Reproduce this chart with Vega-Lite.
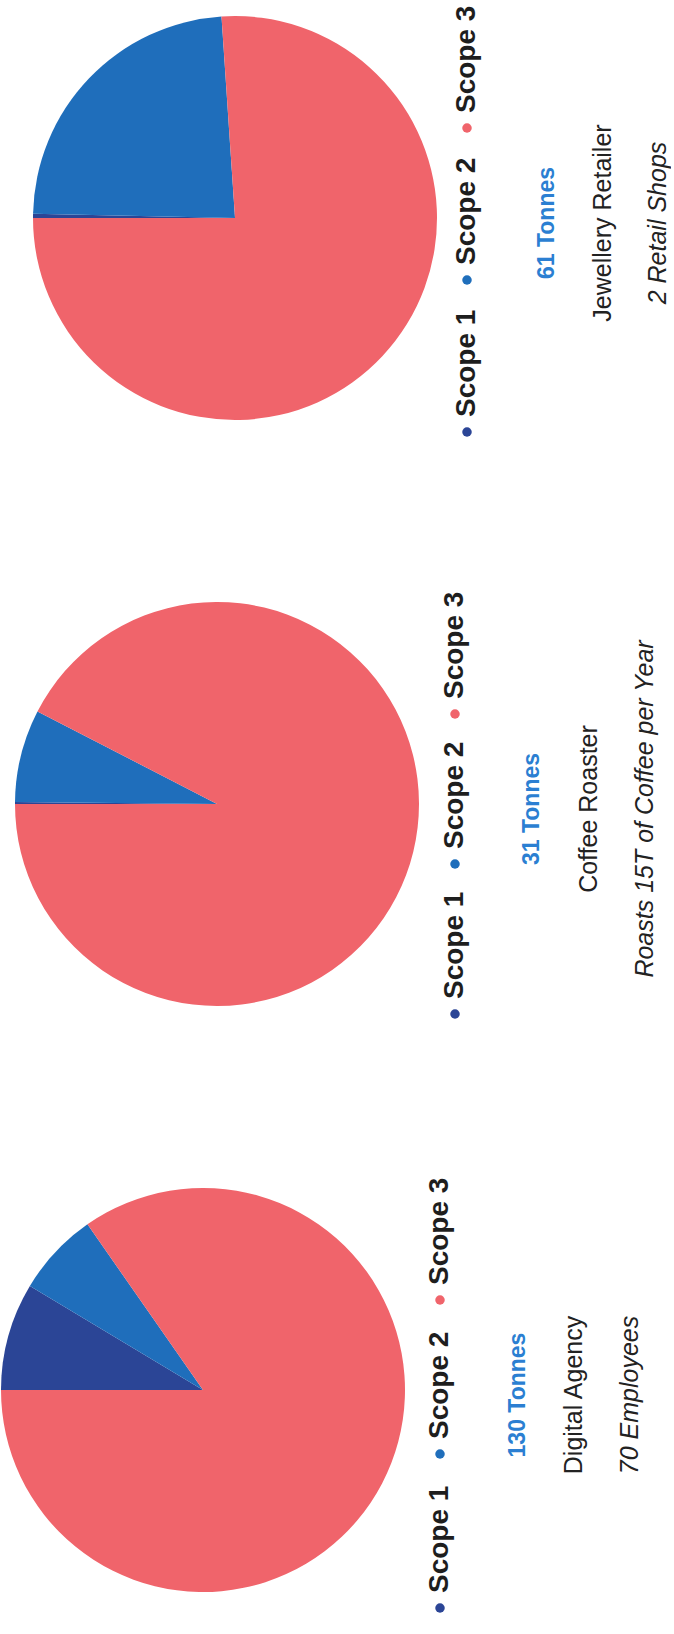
{
  "$schema": "https://vega.github.io/schema/vega-lite/v6.json",
  "background": "white",
  "padding": {"top": 5, "left": 0, "right": 0, "bottom": 0},
  "bounds": "flush",
  "spacing": 182,
  "config": {"view": {"stroke": null}, "text": {"font": "Liberation Sans"}},
  "datasets": {
    "scopes": [
      {"company": "Jewellery Retailer", "scope": "Scope 1", "tonnes": 0.2},
      {"company": "Jewellery Retailer", "scope": "Scope 2", "tonnes": 14.4},
      {"company": "Jewellery Retailer", "scope": "Scope 3", "tonnes": 46.4},
      {"company": "Coffee Roaster", "scope": "Scope 1", "tonnes": 0.05},
      {"company": "Coffee Roaster", "scope": "Scope 2", "tonnes": 2.3},
      {"company": "Coffee Roaster", "scope": "Scope 3", "tonnes": 28.65},
      {"company": "Digital Agency", "scope": "Scope 1", "tonnes": 11.2},
      {"company": "Digital Agency", "scope": "Scope 2", "tonnes": 8.7},
      {"company": "Digital Agency", "scope": "Scope 3", "tonnes": 110.1}
    ],
    "labels": [
      {"company": "Jewellery Retailer", "role": "tonnes", "text": "61 Tonnes"},
      {"company": "Jewellery Retailer", "role": "business", "text": "Jewellery Retailer"},
      {"company": "Jewellery Retailer", "role": "detail", "text": "2 Retail Shops"},
      {"company": "Coffee Roaster", "role": "tonnes", "text": "31 Tonnes"},
      {"company": "Coffee Roaster", "role": "business", "text": "Coffee Roaster"},
      {"company": "Coffee Roaster", "role": "detail", "text": "Roasts 15T of Coffee per Year"},
      {"company": "Digital Agency", "role": "tonnes", "text": "130 Tonnes"},
      {"company": "Digital Agency", "role": "business", "text": "Digital Agency"},
      {"company": "Digital Agency", "role": "detail", "text": "70 Employees"}
    ]
  },
  "vconcat": [
    {
      "width": 470, "height": 404,
      "resolve": {"scale": {"x": "independent"}},
      "layer": [
        {
          "data": {"name": "scopes"},
          "transform": [{"filter": "datum.company === 'Jewellery Retailer'"}],
          "mark": {"type": "arc"},
          "encoding": {
            "theta": {"field": "tonnes", "type": "quantitative", "stack": true, "scale": {"range": [-1.5708, 4.7124], "nice": false}},
            "order": {"field": "scope", "type": "ordinal", "sort": "ascending"},
            "color": {"field": "scope", "type": "nominal", "legend": null, "scale": {"domain": ["Scope 1", "Scope 2", "Scope 3"], "range": ["#2b4596", "#1f6ebb", "#f0646b"]}}
          }
        },
        {
          "data": {"name": "scopes"},
          "transform": [{"filter": "datum.company === 'Jewellery Retailer'"}],
          "encoding": {
            "x": {"datum": "legend", "type": "nominal", "scale": {"type": "point", "domain": ["legend"], "range": [467, 467], "padding": 0}, "axis": null},
            "y": {"field": "scope", "type": "nominal", "scale": {"type": "point", "domain": ["Scope 1", "Scope 2", "Scope 3"], "range": [401, 97], "padding": 0}, "axis": null},
            "color": {"field": "scope", "type": "nominal", "legend": null}
          },
          "layer": [
            {"mark": {"type": "point", "filled": true, "opacity": 1, "size": 90, "yOffset": 15}},
            {"mark": {"type": "text", "angle": 270, "align": "left", "baseline": "middle", "fontSize": 28, "fontWeight": "bold", "color": "#1e1e1e"},
             "encoding": {"text": {"field": "scope"}, "color": {"value": "#1e1e1e"}}}
          ]
        },
        {
          "data": {"name": "labels"},
          "transform": [{"filter": "datum.company === 'Jewellery Retailer'"}],
          "encoding": {
            "x": {"field": "role", "type": "nominal", "scale": {"type": "point", "domain": ["tonnes", "business", "detail"], "range": [547, 658], "padding": 0}, "axis": null},
            "text": {"field": "text"}
          },
          "layer": [
            {"transform": [{"filter": "datum.role === 'tonnes'"}],
             "mark": {"type": "text", "angle": 270, "align": "center", "baseline": "middle", "fontSize": 23, "fontWeight": "bold", "color": "#2b7fd2", "yOffset": 5}},
            {"transform": [{"filter": "datum.role === 'business'"}],
             "mark": {"type": "text", "angle": 270, "align": "center", "baseline": "middle", "fontSize": 25, "color": "#222222", "yOffset": 5}},
            {"transform": [{"filter": "datum.role === 'detail'"}],
             "mark": {"type": "text", "angle": 270, "align": "center", "baseline": "middle", "fontSize": 25, "fontStyle": "italic", "color": "#222222", "yOffset": 5}}
          ]
        }
      ]
    },
    {
      "width": 434, "height": 404,
      "resolve": {"scale": {"x": "independent"}},
      "layer": [
        {
          "data": {"name": "scopes"},
          "transform": [{"filter": "datum.company === 'Coffee Roaster'"}],
          "mark": {"type": "arc"},
          "encoding": {
            "theta": {"field": "tonnes", "type": "quantitative", "stack": true, "scale": {"range": [-1.5708, 4.7124], "nice": false}},
            "order": {"field": "scope", "type": "ordinal", "sort": "ascending"},
            "color": {"field": "scope", "type": "nominal", "legend": null, "scale": {"domain": ["Scope 1", "Scope 2", "Scope 3"], "range": ["#2b4596", "#1f6ebb", "#f0646b"]}}
          }
        },
        {
          "data": {"name": "scopes"},
          "transform": [{"filter": "datum.company === 'Coffee Roaster'"}],
          "encoding": {
            "x": {"datum": "legend", "type": "nominal", "scale": {"type": "point", "domain": ["legend"], "range": [455, 455], "padding": 0}, "axis": null},
            "y": {"field": "scope", "type": "nominal", "scale": {"type": "point", "domain": ["Scope 1", "Scope 2", "Scope 3"], "range": [397, 97], "padding": 0}, "axis": null},
            "color": {"field": "scope", "type": "nominal", "legend": null}
          },
          "layer": [
            {"mark": {"type": "point", "filled": true, "opacity": 1, "size": 90, "yOffset": 15}},
            {"mark": {"type": "text", "angle": 270, "align": "left", "baseline": "middle", "fontSize": 28, "fontWeight": "bold", "color": "#1e1e1e"},
             "encoding": {"text": {"field": "scope"}, "color": {"value": "#1e1e1e"}}}
          ]
        },
        {
          "data": {"name": "labels"},
          "transform": [{"filter": "datum.company === 'Coffee Roaster'"}],
          "encoding": {
            "x": {"field": "role", "type": "nominal", "scale": {"type": "point", "domain": ["tonnes", "business", "detail"], "range": [532, 645], "padding": 0}, "axis": null},
            "text": {"field": "text"}
          },
          "layer": [
            {"transform": [{"filter": "datum.role === 'tonnes'"}],
             "mark": {"type": "text", "angle": 270, "align": "center", "baseline": "middle", "fontSize": 23, "fontWeight": "bold", "color": "#2b7fd2", "yOffset": 5}},
            {"transform": [{"filter": "datum.role === 'business'"}],
             "mark": {"type": "text", "angle": 270, "align": "center", "baseline": "middle", "fontSize": 25, "color": "#222222", "yOffset": 5}},
            {"transform": [{"filter": "datum.role === 'detail'"}],
             "mark": {"type": "text", "angle": 270, "align": "center", "baseline": "middle", "fontSize": 25, "fontStyle": "italic", "color": "#222222", "yOffset": 5}}
          ]
        }
      ]
    },
    {
      "width": 406, "height": 404,
      "resolve": {"scale": {"x": "independent"}},
      "layer": [
        {
          "data": {"name": "scopes"},
          "transform": [{"filter": "datum.company === 'Digital Agency'"}],
          "mark": {"type": "arc"},
          "encoding": {
            "theta": {"field": "tonnes", "type": "quantitative", "stack": true, "scale": {"range": [-1.5708, 4.7124], "nice": false}},
            "order": {"field": "scope", "type": "ordinal", "sort": "ascending"},
            "color": {"field": "scope", "type": "nominal", "legend": null, "scale": {"domain": ["Scope 1", "Scope 2", "Scope 3"], "range": ["#2b4596", "#1f6ebb", "#f0646b"]}}
          }
        },
        {
          "data": {"name": "scopes"},
          "transform": [{"filter": "datum.company === 'Digital Agency'"}],
          "encoding": {
            "x": {"datum": "legend", "type": "nominal", "scale": {"type": "point", "domain": ["legend"], "range": [440, 440], "padding": 0}, "axis": null},
            "y": {"field": "scope", "type": "nominal", "scale": {"type": "point", "domain": ["Scope 1", "Scope 2", "Scope 3"], "range": [405, 97], "padding": 0}, "axis": null},
            "color": {"field": "scope", "type": "nominal", "legend": null}
          },
          "layer": [
            {"mark": {"type": "point", "filled": true, "opacity": 1, "size": 90, "yOffset": 15}},
            {"mark": {"type": "text", "angle": 270, "align": "left", "baseline": "middle", "fontSize": 28, "fontWeight": "bold", "color": "#1e1e1e"},
             "encoding": {"text": {"field": "scope"}, "color": {"value": "#1e1e1e"}}}
          ]
        },
        {
          "data": {"name": "labels"},
          "transform": [{"filter": "datum.company === 'Digital Agency'"}],
          "encoding": {
            "x": {"field": "role", "type": "nominal", "scale": {"type": "point", "domain": ["tonnes", "business", "detail"], "range": [518, 630], "padding": 0}, "axis": null},
            "text": {"field": "text"}
          },
          "layer": [
            {"transform": [{"filter": "datum.role === 'tonnes'"}],
             "mark": {"type": "text", "angle": 270, "align": "center", "baseline": "middle", "fontSize": 23, "fontWeight": "bold", "color": "#2b7fd2", "yOffset": 5}},
            {"transform": [{"filter": "datum.role === 'business'"}],
             "mark": {"type": "text", "angle": 270, "align": "center", "baseline": "middle", "fontSize": 25, "color": "#222222", "yOffset": 5}},
            {"transform": [{"filter": "datum.role === 'detail'"}],
             "mark": {"type": "text", "angle": 270, "align": "center", "baseline": "middle", "fontSize": 25, "fontStyle": "italic", "color": "#222222", "yOffset": 5}}
          ]
        }
      ]
    }
  ]
}
